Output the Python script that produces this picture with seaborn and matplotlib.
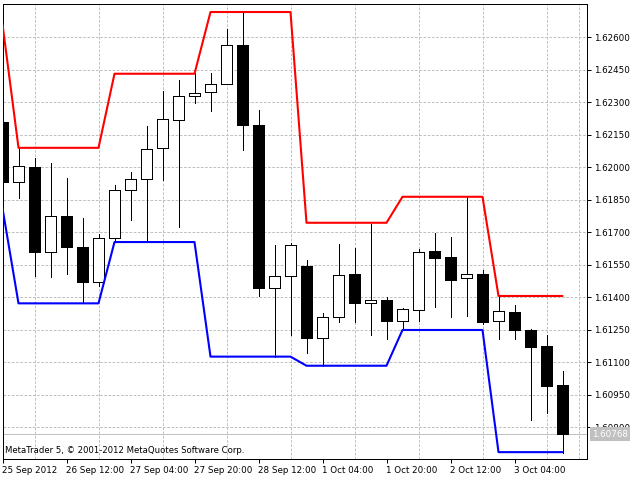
import numpy as np
import pandas as pd
import seaborn as sns
import matplotlib.pyplot as plt
from matplotlib.transforms import blended_transform_factory

# GBPUSD H4 bars, oldest first
opens = [1.62209, 1.61934, 1.62001, 1.61610, 1.61774, 1.61634, 1.61472, 1.61675, 1.61894,
         1.61945, 1.62088, 1.62217, 1.62328, 1.62346, 1.62383, 1.62564, 1.62195, 1.61444,
         1.61498, 1.61546, 1.61211, 1.61308, 1.61508, 1.61375, 1.61388, 1.61292, 1.61343,
         1.61614, 1.61586, 1.61488, 1.61508, 1.61289, 1.61332, 1.61249, 1.61175, 1.60995]
highs = [1.62209, 1.62089, 1.62043, 1.62018, 1.61951, 1.61765, 1.61692, 1.61918, 1.61978,
         1.62191, 1.62352, 1.62403, 1.62434, 1.62434, 1.62638, 1.62714, 1.62264, 1.61641,
         1.61649, 1.61572, 1.61329, 1.61646, 1.61628, 1.61738, 1.61400, 1.61351, 1.61623,
         1.61695, 1.61680, 1.61864, 1.61526, 1.61403, 1.61364, 1.61252, 1.61226, 1.61060]
lows = [1.61934, 1.61860, 1.61500, 1.61495, 1.61509, 1.61372, 1.61452, 1.61658, 1.61757,
        1.61658, 1.61943, 1.61726, 1.62298, 1.62261, 1.62383, 1.62080, 1.61406, 1.61126,
        1.61226, 1.61142, 1.61083, 1.61287, 1.61287, 1.61226, 1.61206, 1.61249, 1.61291,
        1.61357, 1.61310, 1.61314, 1.61275, 1.61209, 1.61206, 1.60834, 1.60867, 1.60683]
closes = [1.61934, 1.62005, 1.61610, 1.61774, 1.61631, 1.61472, 1.61672, 1.61894, 1.61945,
          1.62083, 1.62222, 1.62328, 1.62342, 1.62383, 1.62563, 1.62197, 1.61444, 1.61498,
          1.61641, 1.61214, 1.61308, 1.61503, 1.61375, 1.61388, 1.61292, 1.61345, 1.61608,
          1.61583, 1.61481, 1.61508, 1.61287, 1.61337, 1.61250, 1.61172, 1.60992, 1.60768]

# price channel
upper = [1.62661, 1.62090, 1.62090, 1.62090, 1.62090, 1.62090, 1.62090, 1.62432, 1.62432,
         1.62432, 1.62432, 1.62432, 1.62432, 1.62717, 1.62717, 1.62717, 1.62717, 1.62717,
         1.62717, 1.61744, 1.61744, 1.61744, 1.61744, 1.61744, 1.61744, 1.61864, 1.61864,
         1.61864, 1.61864, 1.61864, 1.61864, 1.61406, 1.61406, 1.61406, 1.61406, 1.61406]
lower = [1.61811, 1.61372, 1.61372, 1.61372, 1.61372, 1.61372, 1.61372, 1.61655, 1.61655,
         1.61655, 1.61655, 1.61655, 1.61655, 1.61126, 1.61126, 1.61126, 1.61126, 1.61126,
         1.61126, 1.61084, 1.61084, 1.61084, 1.61084, 1.61084, 1.61084, 1.61249, 1.61249,
         1.61249, 1.61249, 1.61249, 1.61249, 1.60685, 1.60685, 1.60685, 1.60685, 1.60685]

x_labels = ["25 Sep 2012", "26 Sep 12:00", "27 Sep 04:00", "27 Sep 20:00", "28 Sep 12:00",
            "1 Oct 04:00", "1 Oct 20:00", "2 Oct 12:00", "3 Oct 04:00"]
x_label_bars = [0, 4, 8, 12, 16, 20, 24, 28, 32]
y_ticks = [1.60800, 1.60950, 1.61100, 1.61250, 1.61400, 1.61550, 1.61700, 1.61850,
           1.62000, 1.62150, 1.62300, 1.62450, 1.62600]
last_price = 1.60768

sns.set_style("white")
plt.rcParams['font.family'] = ['DejaVu Sans']

df = pd.DataFrame({'bar': np.arange(len(opens)), 'open': opens, 'high': highs,
                   'low': lows, 'close': closes, 'upper': upper, 'lower': lower})

W, H = 640, 480
fig = plt.figure(figsize=(6.4, 4.8), dpi=100)
fig.patch.set_facecolor('white')
left, right, top, bottom = 2.5, 587.3, 4.0, 459.3
ax = fig.add_axes([left / W, 1 - bottom / H, (right - left) / W, (bottom - top) / H])
ax.set_facecolor('white')

px = 0.72  # one pixel in points
grid_kw = dict(color='#c0c0c0', linewidth=px, linestyle=(0, (2.6, 1.6)))

# candles
up = df['close'] >= df['open']
ax.vlines(df['bar'], df['low'], df['high'], color='black', linewidth=px, zorder=2,
          antialiased=False)
body_lo = np.minimum(df['open'], df['close'])
body_h = np.abs(df['close'] - df['open'])
bars = ax.bar(df['bar'], body_h, bottom=body_lo, width=0.66,
              color=np.where(up, 'white', 'black'), edgecolor='black', linewidth=px, zorder=3)
for b in bars:
    b.set_antialiased(False)

# channel lines
sns.lineplot(data=df, x='bar', y='upper', color='#ff0000', linewidth=1.5, ax=ax, zorder=4)
sns.lineplot(data=df, x='bar', y='lower', color='#0000ff', linewidth=1.5, ax=ax, zorder=4)

# last price line
ax.axhline(last_price, color='#c0c0c0', linewidth=px, zorder=1)

ax.set_xlim(0, 36.55)
ax.set_ylim(1.60652, 1.62754)

ax.set_xticks(x_label_bars)
ax.set_xticklabels(x_labels, fontsize=6.3, ha='left')
ax.set_xticks(np.arange(2, 37, 2), minor=True)
ax.set_yticks(y_ticks)
ax.set_yticklabels([f"{t:.5f}" for t in y_ticks], fontsize=6.3)
ax.yaxis.tick_right()
ax.tick_params(axis='x', which='major', direction='out', length=3, width=px, pad=1.5,
               bottom=True, colors='black')
ax.tick_params(axis='x', which='minor', length=0)
ax.tick_params(axis='y', which='major', direction='out', length=3, width=px, pad=1.5,
               right=True, left=False, colors='black')
ax.grid(False)
ax.grid(True, which='minor', axis='x', **grid_kw)
ax.grid(True, which='major', axis='y', **grid_kw)
ax.set_axisbelow(True)
ax.set_xlabel('')
ax.set_ylabel('')
for s in ax.spines.values():
    s.set_visible(True)
    s.set_color('black')
    s.set_linewidth(px)

# current price tag
tr = blended_transform_factory(ax.transAxes, ax.transData)
ax.text(1.0 + 4.5 / (right - left), last_price, f"{last_price:.5f}", transform=tr,
        fontsize=6.3, color='white', ha='left', va='center', clip_on=False, zorder=6,
        bbox=dict(boxstyle='square,pad=0.25', facecolor='#c0c0c0', edgecolor='none'))

fig.text(5 / W, 1 - 450.5 / H, "MetaTrader 5, \u00a9 2001-2012 MetaQuotes Software Corp.",
         fontsize=6.1, color='black', ha='left', va='center')

fig.savefig('out.png', dpi=100)
